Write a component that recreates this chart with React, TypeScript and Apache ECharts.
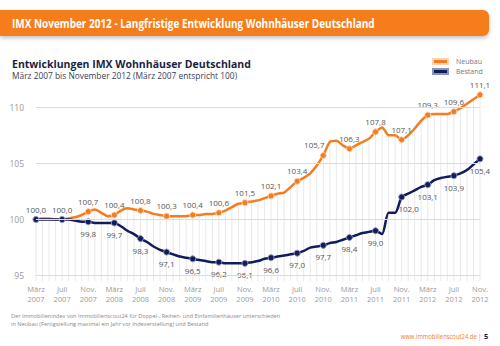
import React, { useEffect, useRef } from "react";
import * as echarts from "echarts";

const MONTH_NAMES = ["Jan.", "Feb.", "März", "Apr.", "Mai", "Juni", "Juli", "Aug.", "Sep.", "Okt.", "Nov.", "Dez."];
const START_YEAR = 2007;
const START_MONTH = 2; // März
const MONTH_COUNT = 69;

const categories: string[] = [];
for (let i = 0; i < MONTH_COUNT; i++) {
  const m = (START_MONTH + i) % 12;
  const y = START_YEAR + Math.floor((START_MONTH + i) / 12);
  categories.push(`${MONTH_NAMES[m]} ${y}`);
}

const neubau = [
  100.0, 100.1, 100.1, 100.0, 100.0, 100.1, 100.2, 100.4, 100.7, 100.9, 100.6, 100.3,
  100.4, 100.8, 101.0, 100.9, 100.8, 100.7, 100.5, 100.4, 100.3, 100.3, 100.3, 100.3,
  100.4, 100.4, 100.5, 100.5, 100.6, 100.8, 101.1, 101.4, 101.5, 101.6, 101.7, 101.9,
  102.1, 102.3, 102.4, 102.9, 103.4, 103.7, 104.1, 104.8, 105.7, 106.9, 107.0, 106.6,
  106.3, 106.6, 106.9, 107.2, 107.8, 108.2, 107.5, 107.5, 107.1, 107.5, 108.1, 108.8,
  109.3, 109.4, 109.4, 109.4, 109.6, 109.9, 110.3, 110.7, 111.1,
];

const bestand = [
  100.0, 100.0, 100.0, 100.0, 100.0, 100.0, 99.9, 99.8, 99.8, 99.7, 99.7, 99.7,
  99.7, 99.4, 99.0, 98.7, 98.3, 98.0, 97.6, 97.3, 97.1, 96.9, 96.7, 96.6,
  96.5, 96.4, 96.3, 96.2, 96.2, 96.1, 96.1, 96.1, 96.1, 96.2, 96.3, 96.5,
  96.6, 96.7, 96.8, 96.9, 97.0, 97.2, 97.5, 97.6, 97.7, 97.9, 98.0, 98.2,
  98.4, 98.6, 98.8, 98.9, 99.0, 98.7, 100.6, 100.6, 102.0, 102.3, 102.6, 102.9,
  103.1, 103.5, 103.7, 103.8, 103.9, 104.1, 104.4, 104.9, 105.4,
];

const Y_TICKS = [95, 100, 105, 110];
const LABEL_STEP = 4;

const ORANGE = "#f57d1f";
const NAVY = "#101c5c";
const FONT = '"Open Sans", sans-serif';

const fmt = (v: number) => v.toFixed(1).replace(".", ",");

export default function App() {
  const ref = useRef<HTMLDivElement>(null);
  useEffect(() => {
    if (!ref.current) return;
    const chart = echarts.init(ref.current, null, { renderer: "svg" });
    chart.setOption({
      animation: false,
      backgroundColor: "#ffffff",
      textStyle: { fontFamily: FONT },
      grid: { left: 36, right: 20, top: 84.7, bottom: 64.7 },
      legend: {
        data: ["Neubau", "Bestand"],
        orient: "vertical",
        left: 432,
        top: 57,
        padding: 0,
        icon: "rect",
        itemWidth: 15,
        itemHeight: 5,
        itemGap: 1,
        textStyle: { fontSize: 7, lineHeight: 9, color: "#777", padding: [0, 0, 0, 3] },
      },
      xAxis: {
        type: "category",
        data: categories,
        boundaryGap: false,
        axisLine: { show: false },
        axisTick: { show: false },
        splitLine: { show: false },
        axisLabel: {
          interval: (i: number) => i % LABEL_STEP === 0,
          formatter: (v: string) => v.replace(" ", "\n"),
          color: "#9a9a9a",
          fontSize: 7.5,
          lineHeight: 10,
          margin: 3,
        },
      },
      yAxis: {
        type: "value",
        min: 94.5,
        max: 112,
        interval: 0.5,
        axisLine: { show: false },
        axisTick: { show: false },
        splitLine: { show: false },
        axisLabel: {
          formatter: (v: number) => (Y_TICKS.includes(v) ? String(v) : ""),
          color: "#999",
          fontSize: 8.5,
          margin: 12,
        },
      },
      series: [
        {
          name: "stripes",
          type: "bar",
          data: neubau,
          barWidth: 1,
          silent: true,
          itemStyle: { color: "#e9e9e9" },
          z: 1,
          markLine: {
            silent: true,
            symbol: "none",
            label: { show: false },
            lineStyle: { color: "#dcdcdc", width: 1, type: "solid" },
            data: Y_TICKS.map((t) => ({ yAxis: t })),
          },
        },
        {
          name: "Neubau",
          type: "line",
          data: neubau,
          smooth: 0.25,
          showAllSymbol: true,
          symbol: "circle",
          symbolSize: (_v: number, p: any) => (p.dataIndex % LABEL_STEP === 0 ? 6 : 0),
          lineStyle: { color: ORANGE, width: 2.5 },
          itemStyle: { color: ORANGE, borderColor: "#fbd2b0", borderWidth: 1 },
          label: {
            show: true,
            position: "top",
            distance: 3,
            fontSize: 8,
            color: "#555",
            formatter: (p: any) => (p.dataIndex % LABEL_STEP === 0 ? fmt(p.value) : ""),
          },
          labelLayout: (p: any) => (p.dataIndex === 44 ? { dx: -9 } : {}),
          z: 3,
        },
        {
          name: "Bestand",
          type: "line",
          data: bestand,
          smooth: 0.25,
          showAllSymbol: true,
          symbol: "circle",
          symbolSize: (_v: number, p: any) => (p.dataIndex % LABEL_STEP === 0 ? 6 : 0),
          lineStyle: { color: NAVY, width: 2.5 },
          itemStyle: { color: NAVY, borderColor: "#8c93b8", borderWidth: 1 },
          label: {
            show: true,
            position: "bottom",
            distance: 4,
            fontSize: 8,
            color: "#555",
            formatter: (p: any) =>
              p.dataIndex % LABEL_STEP === 0 && p.dataIndex >= 2 * LABEL_STEP ? fmt(p.value) : "",
          },
          labelLayout: (p: any) => (p.dataIndex === 56 ? { dx: 7 } : {}),
          z: 4,
        },
      ],
      graphic: [
        {
          type: "rect",
          shape: { x: 0, y: 10, width: 489, height: 26, r: [0, 6, 6, 0] },
          style: { fill: ORANGE, shadowBlur: 4, shadowColor: "rgba(0,0,0,0.25)", shadowOffsetY: 2 },
          z: 10,
        },
        {
          type: "text",
          x: 12,
          y: 23,
          scaleX: 0.8,
          style: {
            text: "IMX November 2012 - Langfristige Entwicklung Wohnhäuser Deutschland",
            fill: "#ffffff",
            fontSize: 12.5,
            fontWeight: "bold",
            fontFamily: FONT,
            verticalAlign: "middle",
          },
          z: 11,
        },
        {
          type: "text",
          x: 12,
          y: 63.5,
          style: {
            text: "Entwicklungen IMX Wohnhäuser Deutschland",
            fill: "#1c1f3f",
            fontSize: 10.5,
            fontWeight: "bold",
            fontFamily: FONT,
            verticalAlign: "middle",
          },
        },
        {
          type: "text",
          x: 12,
          y: 75.5,
          scaleX: 0.93,
          style: {
            text: "März 2007 bis November 2012 (März 2007 entspricht 100)",
            fill: "#3a3d5a",
            fontSize: 9,
            fontFamily: FONT,
            verticalAlign: "middle",
          },
        },
        {
          type: "text",
          x: 11,
          y: 316,
          scaleX: 0.93,
          style: {
            text: "Der Immobilienindex von Immobilienscout24 für Doppel-, Reihen- und Einfamilienhäuser unterschieden",
            fill: "#8a8a8a",
            fontSize: 6,
            fontFamily: FONT,
            verticalAlign: "middle",
          },
        },
        {
          type: "text",
          x: 11,
          y: 323.5,
          scaleX: 0.93,
          style: {
            text: "in Neubau (Fertigstellung maximal ein Jahr vor Indexerstellung) und Bestand",
            fill: "#8a8a8a",
            fontSize: 6,
            fontFamily: FONT,
            verticalAlign: "middle",
          },
        },
        {
          type: "text",
          x: 483,
          y: 336,
          scaleX: 0.84,
          style: {
            text: "www.immobilienscout24.de | ",
            fill: ORANGE,
            fontSize: 7,
            fontFamily: FONT,
            align: "right",
            verticalAlign: "middle",
          },
        },
        {
          type: "text",
          x: 484,
          y: 336,
          style: {
            text: "5",
            fill: NAVY,
            fontSize: 7.5,
            fontWeight: "bold",
            fontFamily: FONT,
            verticalAlign: "middle",
          },
        },
      ],
    });
    return () => chart.dispose();
  }, []);
  return (
    <div
      ref={ref}
      style={{ position: "fixed", left: 0, top: 0, width: 500, height: 346 }}
    />
  );
}
